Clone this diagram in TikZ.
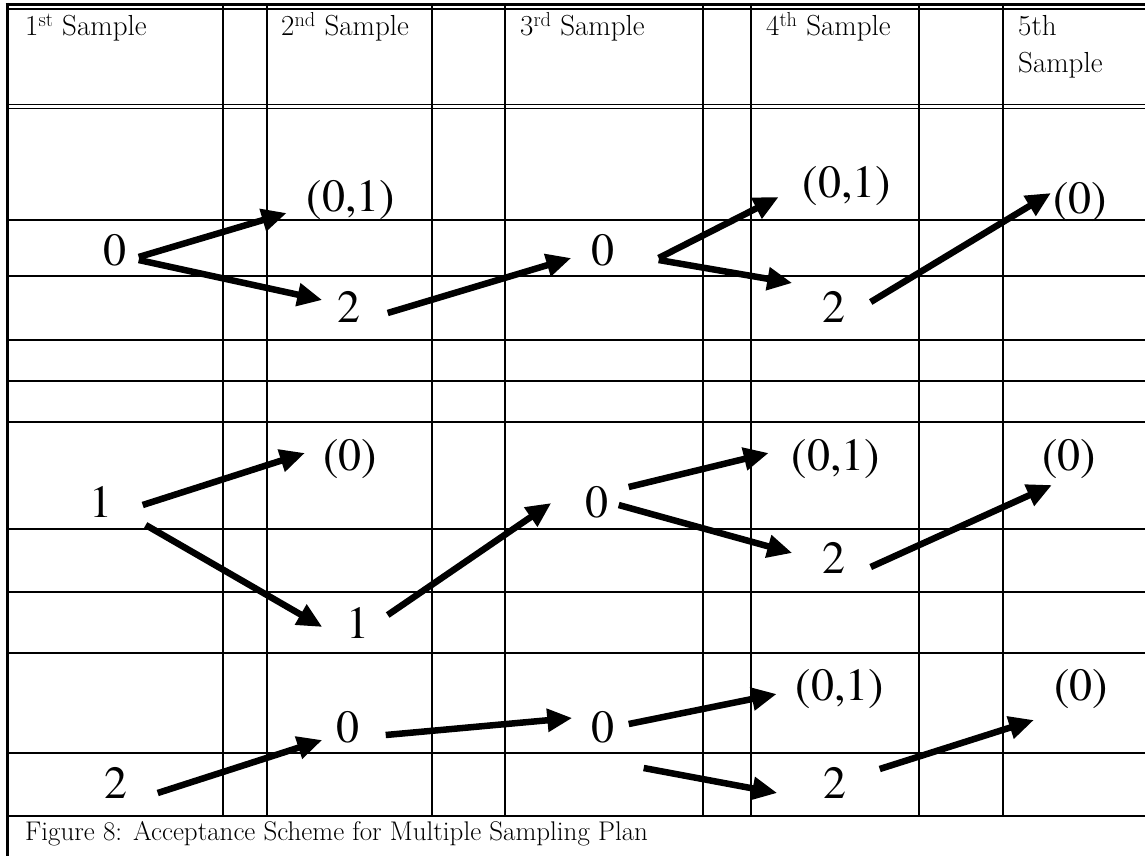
\documentclass[tikz,border=0pt]{standalone}
\usepackage{fontspec}
\newfontfamily\numfont{texgyretermes}[Extension=.otf, UprightFont=*-regular]
\usetikzlibrary{arrows.meta}
\tikzset{
  big/.style={font=\numfont\fontsize{46}{46}\selectfont, inner sep=0pt, anchor=base},
  head/.style={font=\fontsize{29}{34}\selectfont, inner sep=0pt, anchor=base west},
  arr/.style={line width=6.5pt, -{Triangle[length=25pt,width=22pt]}},
  rule/.style={line width=1.8pt}
}
\begin{document}
\begin{tikzpicture}[x=1pt,y=-1pt]
            \useasboundingbox (0,0) rectangle (1145,856);
            \foreach \x in {223,267,432,505,703,751,919,1003}
              \draw[rule] (\x,4) -- (\x,816);
            \foreach \y in {104.5,108.5,220,276,340,381,422,529,592,653,753,816}
              \draw[rule] (7,\y) -- (1145,\y);
            \draw[line width=2.5pt] (5.5,4.5) -- (1145,4.5);
            \draw[line width=1.2pt] (7,9) -- (1145,9);
            \draw[line width=3pt] (7,3) -- (7,856);
            \node[head] (H1) at (25,36) {1\textsuperscript{st} Sample};
            \node[head] (H2) at (281,36) {2\textsuperscript{nd} Sample};
            \node[head] (H3) at (520,36) {3\textsuperscript{rd} Sample};
            \node[head] (H4) at (766,36) {4\textsuperscript{th} Sample};
            \node[head] (H5) at (1018,36) {5th};
            \node[head] (H5b) at (1018,73) {Sample};
            \node[head, font=\fontsize{27}{32}\selectfont] (F) at (25,840) {Figure 8: Acceptance Scheme for Multiple Sampling Plan};
            \node[big] (A1) at (115,265) {0};
            \node[big] (A2t) at (351,211) {(0,1)};
            \node[big] (A2) at (349,322) {2};
            \node[big] (A3) at (603,265) {0};
            \node[big] (A4t) at (847,197) {(0,1)};
            \node[big] (A4) at (834,322) {2};
            \node[big] (A5) at (1080,213) {(0)};
            \node[big] (B1) at (101,517) {1};
            \node[big] (B2t) at (350,470) {(0)};
            \node[big] (B2) at (358,638) {1};
            \node[big] (B3) at (597,517) {0};
            \node[big] (B4t) at (836,470) {(0,1)};
            \node[big] (B4) at (834,573) {2};
            \node[big] (B5) at (1069,470) {(0)};
            \node[big] (C1) at (116,798) {2};
            \node[big] (C2) at (348,742) {0};
            \node[big] (C3) at (603,742) {0};
            \node[big] (C4t) at (840,700) {(0,1)};
            \node[big] (C4) at (835,798) {2};
            \node[big] (C5) at (1081,700) {(0)};
            \draw[arr] ([shift={(12,-8)}]A1.base east) -- ([shift={(-20,2)}]A2t.base west);
            \draw[arr] ([shift={(12,-5)}]A1.base east) -- ([shift={(-15,-22)}]A2.base west);
            \draw[arr] ([shift={(27,-9)}]A2.base east) -- ([shift={(-20,-7)}]A3.base west);
            \draw[arr] ([shift={(44,-7)}]A3.base east) -- ([shift={(-24,0)}]A4t.base west);
            \draw[arr] ([shift={(44,-5)}]A3.base east) -- ([shift={(-30,-39)}]A4.base west);
            \draw[arr] ([shift={(25,-20)}]A4.base east) -- ([shift={(-2,-20)}]A5.base west);
            \draw[arr] ([shift={(30,-12)}]B1.base east) -- ([shift={(-18,-17)}]B2t.base west);
            \draw[arr] ([shift={(33,8)}]B1.base east) -- ([shift={(-24,-11)}]B2.base west);
            \draw[arr] ([shift={(18,-23)}]B2.base east) -- ([shift={(-34,-14)}]B3.base west);
            \draw[arr] ([shift={(20,-30)}]B3.base east) -- ([shift={(-23,-17)}]B4t.base west);
            \draw[arr] ([shift={(10,-12)}]B3.base east) -- ([shift={(-30,-20)}]B4.base west);
            \draw[arr] ([shift={(25,-6)}]B4.base east) -- ([shift={(10,15)}]B5.base west);
            \draw[arr] ([shift={(30,-5)}]C1.base east) -- ([shift={(-14,-2)}]C2.base west);
            \draw[arr] ([shift={(26,-7)}]C2.base east) -- ([shift={(-19,-24)}]C3.base west);
            \draw[arr] ([shift={(14,-18)}]C3.base east) -- ([shift={(-19,-6)}]C4t.base west);
            \draw[arr] ([shift={(29,26)}]C3.base east) -- ([shift={(-46,-5)}]C4.base west);
            \draw[arr] ([shift={(33,-29)}]C4.base east) -- ([shift={(-20,20)}]C5.base west);
\end{tikzpicture}
\end{document}
